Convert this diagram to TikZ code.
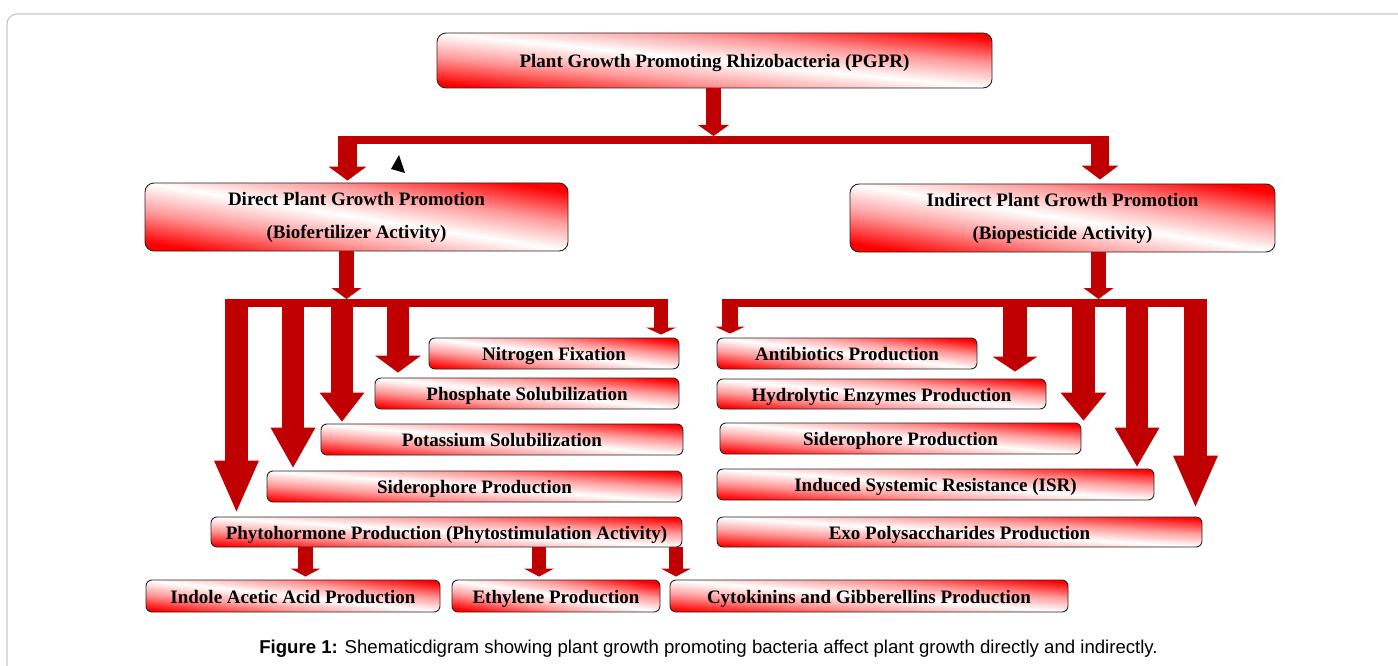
\documentclass[tikz,border=0pt]{standalone}
\usepackage{fontspec}
\setmainfont{Liberation Serif}
\newfontfamily\figcapfont{Liberation Sans}
\usetikzlibrary{arrows.meta}
\definecolor{flowred}{RGB}{192,0,0}
\pgfdeclareverticalshading{boxshade}{100bp}{color(0bp)=(red); color(25bp)=(red);
  color(38bp)=(red!40!white); color(50bp)=(white); color(62bp)=(red!40!white);
  color(75bp)=(red); color(100bp)=(red)}

\begin{document}
\begin{tikzpicture}[x=1pt, y=-1pt,
  growthbox/.style 2 args={draw=black!85, line width=0.9pt, rounded corners=6pt,
    minimum width=#1, minimum height=#2, shading=boxshade, shading angle/.evaluated={-atan(#2/#1)},
    inner sep=0pt, align=center, font=\fontsize{19}{33}\selectfont\bfseries},
  oneline/.style={text height=15pt, text depth=1pt},
  flow/.style={draw=flowred, line width=#1}]
\useasboundingbox (0,0) rectangle (1398,666);
\draw[black!22, line width=1.2pt, rounded corners=10pt] (7,666)--(7,14)--(1398,14);

% main boxes
\node[growthbox={555pt}{55pt}, oneline, rounded corners=9pt] (pgpr) at (714.5,60.5)
  {Plant Growth Promoting Rhizobacteria (PGPR)};
\node[growthbox={423pt}{68pt}, rounded corners=9pt] (direct) at (356.5,217)
  {Direct Plant Growth Promotion\\(Biofertilizer Activity)};
\node[growthbox={425pt}{68pt}, rounded corners=9pt] (indirect) at (1062.5,218)
  {Indirect Plant Growth Promotion\\(Biopesticide Activity)};

% direct mechanisms
\node[growthbox={250pt}{31pt}, oneline] (nitro) at (554,353.5) {Nitrogen Fixation};
\node[growthbox={304pt}{31pt}, oneline] (phos) at (527,393.5) {Phosphate Solubilization};
\node[growthbox={362pt}{31pt}, oneline] (potas) at (502,439.5) {Potassium Solubilization};
\node[growthbox={415pt}{31pt}, oneline] (sidL) at (474.5,486.5) {Siderophore Production};
\node[growthbox={471pt}{30pt}, oneline] (phyto) at (446.5,532)
  {Phytohormone Production (Phytostimulation Activity)};
\node[growthbox={294pt}{32pt}, oneline] (indole) at (293,596) {Indole Acetic Acid Production};
\node[growthbox={208pt}{32pt}, oneline] (ethyl) at (556,596) {Ethylene Production};
\node[growthbox={398pt}{32pt}, oneline] (cyto) at (869,596) {Cytokinins and Gibberellins Production};

% indirect mechanisms
\node[growthbox={260pt}{31pt}, oneline] (anti) at (847,353.5) {Antibiotics Production};
\node[growthbox={329pt}{30pt}, oneline] (hydro) at (881.5,394) {Hydrolytic Enzymes Production};
\node[growthbox={361pt}{31pt}, oneline] (sidR) at (900.5,438.5) {Siderophore Production};
\node[growthbox={437pt}{31pt}, oneline] (isr) at (935.5,484.5) {Induced Systemic Resistance (ISR)};
\node[growthbox={485pt}{30pt}, oneline] (exo) at (959.5,532) {Exo Polysaccharides Production};

% splits
\coordinate (thub) at (713.5,140);
\coordinate (lhub) at (346.5,303);
\coordinate (rhub) at (1098.5,303);
\draw[flow=8pt] (thub -| 338,0)--(thub -| 1109,0);
\draw[flow=8pt] (lhub -| 225,0)--(lhub -| 668,0);
\draw[flow=8pt] (rhub -| 722,0)--(rhub -| 1207,0);

\draw[flow=15pt, -{Triangle[width=31pt,length=11pt,line width=0pt]}, shorten >=4pt] (pgpr.south -| thub)--(thub);
\draw[flow=19pt, -{Triangle[width=38pt,length=14pt,line width=0pt]}, shorten >=2pt] (thub -| 347.5,0)--(direct.north -| 347.5,0);
\draw[flow=18pt, -{Triangle[width=37pt,length=14pt,line width=0pt]}, shorten >=4pt] (thub -| 1100,0)--(indirect.north -| 1100,0);
\draw[flow=15pt, -{Triangle[width=30pt,length=11pt,line width=0pt]}, shorten >=4pt] (direct.south -| lhub)--(lhub);
\draw[flow=15pt, -{Triangle[width=30pt,length=11pt,line width=0pt]}, shorten >=4pt] (indirect.south -| rhub)--(rhub);

\foreach \x/\w/\hw/\hl/\b/\g in {661/14pt/30pt/7pt/nitro/3pt, 398/22pt/46pt/17pt/phos/5pt,
    342/22pt/45pt/29pt/potas/2pt, 293/22pt/45pt/40pt/sidL/3pt, 236.5/23pt/45pt/51pt/phyto/5pt}
{
    \draw[flow=\w, -{Triangle[width=\hw,length=\hl,line width=0pt]}, shorten >=\g] (lhub -| \x,0)--(\b.north -| \x,0);
}
\foreach \x/\w/\hw/\hl/\b/\g in {730/16pt/30pt/7pt/anti/4pt, 1015/24pt/45pt/15pt/hydro/7pt,
    1083.5/23pt/46pt/28pt/sidR/2pt, 1137/22pt/45pt/39pt/isr/2pt, 1195.5/23pt/45pt/51pt/exo/10pt}
{
    \draw[flow=\w, -{Triangle[width=\hw,length=\hl,line width=0pt]}, shorten >=\g] (rhub -| \x,0)--(\b.north -| \x,0);
}
\foreach \x/\w/\b in {305.5/15pt/indole, 539/14pt/ethyl, 676/14pt/cyto}
{
    \draw[flow=\w, -{Triangle[width=30pt,length=8pt,line width=0pt]}, shorten >=3pt] (phyto.south -| \x,0)--(\b.north -| \x,0);
}

\fill (399,155)--(391,169)--(405,173)--cycle;

\node[font=\figcapfont\fontsize{18.6}{22}\selectfont, anchor=base] (caption) at (708.5,653)
  {\textbf{Figure 1:} Shematicdigram showing plant growth promoting bacteria affect plant growth directly and indirectly.};
\end{tikzpicture}
\end{document}
